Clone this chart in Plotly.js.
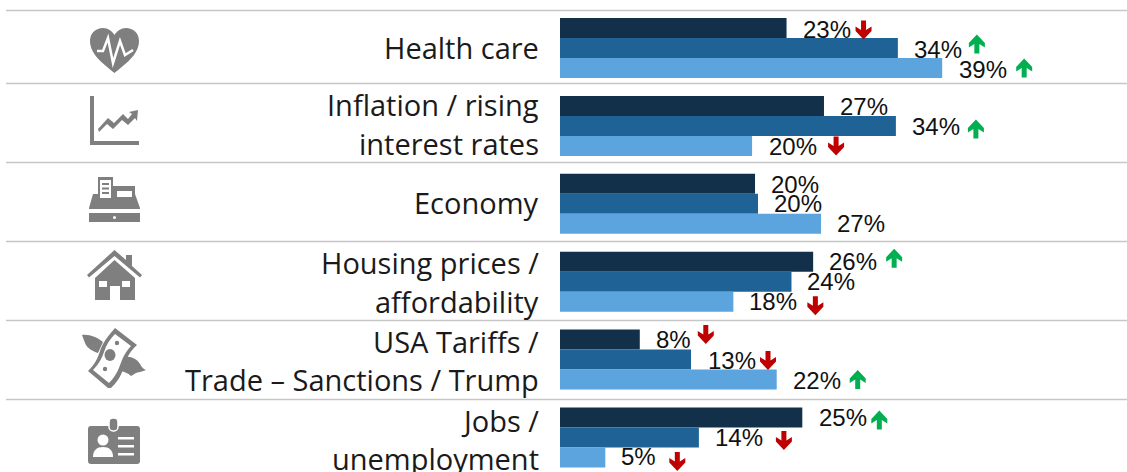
<!DOCTYPE html>
<html><head><meta charset="utf-8">
<script src="https://cdn.plot.ly/plotly-3.0.1.min.js"></script>
<style>html,body{margin:0;padding:0;background:#fff;overflow:hidden}</style></head>
<body><div id="chart" style="width:1127px;height:472px"></div>
<script>
const categories=["Health care","Inflation / rising<br>interest rates","Economy","Housing prices /<br>affordability","USA Tariffs /<br>Trade – Sanctions / Trump","Jobs /<br>unemployment"];
const seriesA=[23.0,26.8,19.8,25.7,8.1,24.6];
const seriesB=[34.3,34.1,20.1,23.5,13.3,14.1];
const seriesC=[38.8,19.5,26.5,17.6,22.0,4.6];
const labelsA=[23,27,20,26,8,25];
const labelsB=[34,34,20,24,13,14];
const labelsC=[39,20,27,18,22,5];
const trendA=[-1,0,0,1,-1,1];
const trendB=[1,1,0,0,-1,-1];
const trendC=[1,-1,0,-1,1,-1];
const colors=["#12304a","#1f6295","#5ba4de"];

// pixel tweaks (layout only)
const W=1127,H=472,X0=560,PXU=9.85,Y0=48,ROW=77.9;
const labelDy=[[1.5,1,1],[0.5,1,1],[1,0,0],[0,0,0],[0,1,1],[0,0,-1.5]];
const arrowDx=[[77,79,82],[0,80,84],[0,0,0],[81,0,82],[66,77,81],[77,85,72]];
const arrowDy=[[2,-4,0],[0,3,0],[0,0,0],[-3.5,0,4],[-5,1,0],[2.5,3,4]];
const labelDx=[[14,14,15],[14,14,15],[14,14,14],[14,14,14],[14,15,14],[15,14,14]];
const catLineY=[[47.5],[104.5,143.5],[202.5],[262.5,301.5],[341.5,379.5],[420.5,458.5]];
const ruleY=[10.5,83.5,162.5,241.5,320.5,399.5];

const series=[seriesA,seriesB,seriesC],labels=[labelsA,labelsB,labelsC],trends=[trendA,trendB,trendC];
const rows=categories.map((_,i)=>i);
const traces=series.map((s,k)=>({type:"bar",orientation:"h",x:s,y:rows,marker:{color:colors[k],line:{width:0}},hoverinfo:"skip",showlegend:false}));

const annotations=[],shapes=[];
function arrowPath(dir,dx,dy){
  const p=[[-2.5,-9.5],[2.5,-9.5],[2.5,0],[8,-3.5],[8,1],[0,9.5],[-8,1],[-8,-3.5],[-2.5,0]];
  return "M"+p.map(q=>(q[0]+dx)+","+(q[1]*(dir<0?-1:1)-dy)).join("L")+"Z";
}
rows.forEach(r=>{
  series.forEach((s,k)=>{
    const off=(k-1)*20/ROW;
    annotations.push({x:s[r],y:r+off,xref:"x",yref:"y",xanchor:"left",yanchor:"middle",showarrow:false,
      xshift:labelDx[r][k],yshift:-labelDy[r][k],text:labels[k][r]+"%",
      font:{family:"Liberation Sans",size:24,color:"#111"}});
    const t=trends[k][r];
    if(t){
      shapes.push({type:"path",xsizemode:"pixel",ysizemode:"pixel",xanchor:s[r],yanchor:r+off,xref:"x",yref:"y",
        path:arrowPath(t,arrowDx[r][k],arrowDy[r][k]),
        fillcolor:t>0?"#00b050":"#c00000",line:{width:0}});
    }
  });
  categories[r].split("<br>").forEach((line,j)=>{
    annotations.push({x:541/W,y:1-catLineY[r][j]/H,xref:"paper",yref:"paper",xanchor:"right",yanchor:"middle",showarrow:false,
      text:line,font:{family:"Open Sans",size:29,color:"#1a1a1a"}});
  });
});
ruleY.forEach(y=>shapes.push({type:"line",xref:"paper",yref:"paper",x0:6/W,x1:1,y0:1-y/H,y1:1-y/H,line:{color:"#c6c6c6",width:1.4}}));

const G="#7f7f7f";
const icons=[
 {x:90,y:28,w:49,h:45,vb:"0 0 49 45",svg:`<path fill="${G}" d="M24.5 45C15 37 0 27 0 13 0 5 6 0 13 0c5 0 9 3 11.5 7C27 3 31 0 36 0c7 0 13 5 13 13 0 14-15 24-24.5 32z"/><path fill="none" stroke="#fff" stroke-width="2.5" d="M7 23h6l5-13 5 25 7-22 5 14 8-5"/>`},
 {x:90,y:96,w:49,h:49,vb:"0 0 49 49",svg:`<path fill="${G}" d="M0 0h4v45h45v4H0z"/><path fill="${G}" d="M8 33l10-11 6 5 9-9 5 5 4-5-3-2 9-2-1 11-2-3-7 7-6-5-9 9-6-5-8 8z"/>`},
 {x:89,y:177,w:51,h:46,vb:"0 0 51 46",svg:`<path fill="${G}" d="M9 0h15v9h22v8l5 14v1H0v-1l4-14h5z"/><rect x="11" y="3" width="11" height="18" fill="#fff"/><rect x="13" y="6" width="7" height="2" fill="${G}"/><rect x="13" y="10.5" width="7" height="2" fill="${G}"/><rect x="13" y="15" width="7" height="2" fill="${G}"/><rect x="28" y="14" width="15" height="6" fill="#fff"/><rect x="0" y="36" width="51" height="9" fill="${G}"/><circle cx="25.5" cy="40.5" r="1.5" fill="#fff"/>`},
 {x:87,y:250,w:55,h:50,vb:"0 0 55 50",svg:`<path fill="${G}" d="M27.5 0L39 10V5h6v11l10 9-2 2.5L27.5 6 2 27.5 0 25z"/><path fill="${G}" d="M27.5 10L48 28v22H33V36h-10v14H8V28z"/><rect x="12" y="31" width="8" height="6" fill="#fff"/><rect x="35" y="31" width="8" height="6" fill="#fff"/>`},
 {x:81,y:328,w:66,h:60,vb:"0 0 66 60",svg:`<path fill="${G}" d="M1 7C8 6 16 9 22 14L17 25C11 23 6 20 4 15 3 12 2 10 1 7z"/><path fill="${G}" d="M44 29C50 28 56 31 59 36 61 40 63 41 65 42 60 44 57 44 55 45L50 48C47 45 43 44 40 43z"/><path fill="${G}" d="M34 0L56 17C50 22 47 28 45 33 42 40 41 50 30 60L27 60 7 43C14 36 17 30 19 23 22 14 27 8 34 0z"/><path fill="#fff" d="M34 6L50 18C46 22 43 27 41 32 38 39 37 46 28 55L12 42C18 36 21 30 23 24 25 17 29 11 34 6z"/><ellipse cx="29" cy="27" rx="5.500" ry="6" fill="${G}"/><circle cx="36" cy="15" r="2.200" fill="${G}"/><circle cx="24" cy="41" r="2.200" fill="${G}"/>`},
 {x:88,y:418,w:52,h:46,vb:"0 0 52 46",svg:`<rect x="0" y="8" width="52" height="38" rx="3" fill="${G}"/><rect x="21" y="0" width="9" height="13" rx="4" fill="${G}" stroke="#fff" stroke-width="1.5"/><circle cx="15" cy="22" r="5.5" fill="#fff"/><path fill="#fff" d="M5 39c0-7 4-10 10-10s10 3 10 10z"/><rect x="30" y="19" width="16" height="2.5" fill="#fff"/><rect x="30" y="27" width="16" height="2.5" fill="#fff"/><rect x="30" y="35" width="16" height="2.5" fill="#fff"/>`}
];
const images=icons.map(ic=>({
  source:"data:image/svg+xml;charset=utf-8,"+encodeURIComponent(`<svg xmlns="http://www.w3.org/2000/svg" viewBox="${ic.vb}" width="${ic.w}" height="${ic.h}">${ic.svg}</svg>`),
  xref:"paper",yref:"paper",x:ic.x/W,y:1-ic.y/H,sizex:ic.w/W,sizey:ic.h/H,xanchor:"left",yanchor:"top",sizing:"stretch",layer:"above"}));

const layout={width:W,height:H,margin:{l:0,r:0,t:0,b:0,pad:0},paper_bgcolor:"#fff",plot_bgcolor:"rgba(0,0,0,0)",
  barmode:"group",bargap:1-60/ROW,bargroupgap:0,showlegend:false,
  xaxis:{range:[-X0/PXU,(W-X0)/PXU],visible:false,fixedrange:true},
  yaxis:{range:[(H-Y0)/ROW,-Y0/ROW],visible:false,fixedrange:true},
  annotations,shapes,images};
Plotly.newPlot("chart",traces,layout,{staticPlot:true,displayModeBar:false});
</script></body></html>
